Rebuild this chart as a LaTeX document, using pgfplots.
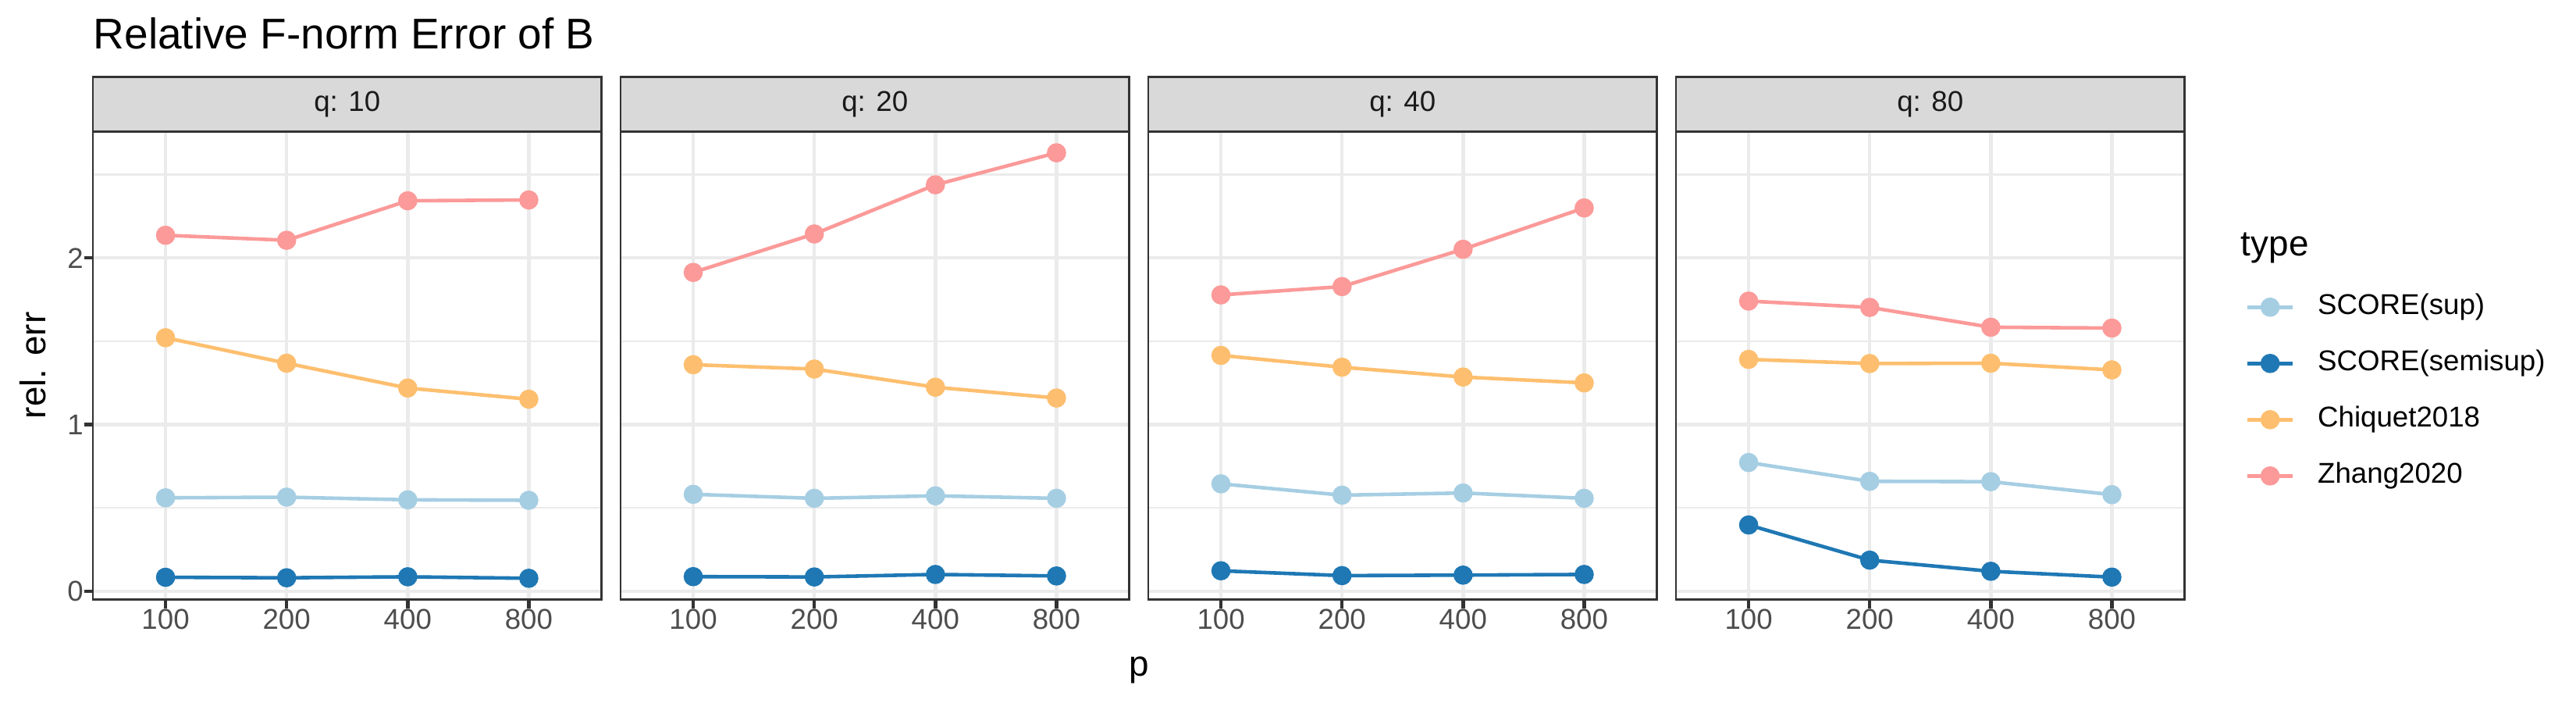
\documentclass[border=0pt]{standalone}
\usepackage{fontspec}
\setmainfont{Liberation Sans}
\usepackage{pgfplots}
\pgfplotsset{compat=1.18}
\definecolor{grey10}{HTML}{1A1A1A}
\definecolor{grey20}{HTML}{333333}
\definecolor{grey30}{HTML}{4D4D4D}
\definecolor{grey85}{HTML}{D9D9D9}
\definecolor{grey92}{HTML}{EBEBEB}
\definecolor{csup}{HTML}{A6CEE3}
\definecolor{csemi}{HTML}{1F78B4}
\definecolor{cchiq}{HTML}{FDBF6F}
\definecolor{czhang}{HTML}{FB9A99}
\pgfplotsset{
  panel/.style={
    at={(#1,31.78pt)}, anchor=south west,
    scale only axis, width=156.36pt, height=143.8pt,
    xmin=0.4, xmax=4.6, ymin=-0.0507, ymax=2.7587,
    xtick={1,2,3,4}, xticklabels={100,200,400,800},
    ytick={0,1,2}, minor ytick={0.5,1.5,2.5},
    grid=both,
    major grid style={grey92, line width=1.07pt},
    minor grid style={grey92, line width=0.53pt},
    tick align=outside, major tick length=2.75pt, minor tick length=0pt,
    xtick pos=bottom, ytick pos=left,
    tick style={grey20, line width=1.07pt},
    axis line style={draw=none},
    ticklabel style={font=\fontsize{8.8}{10}\selectfont, text=grey30},
    xticklabel style={anchor=north, inner sep=0pt},
    yticklabel style={anchor=east, inner sep=0pt},
    clip=false,
    every axis plot/.append style={line width=1.1pt, mark=*, mark size=2.4pt, mark options={solid}},
  },
}
\newcommand{\strip}[1]{%
  \draw[grey20, line width=0.55pt] (rel axis cs:0,0) rectangle (rel axis cs:1,1);
  \draw[grey20, line width=0.55pt, fill=grey85] (rel axis cs:0,1) rectangle ([yshift=16.8pt]rel axis cs:1,1);
  \node[font=\fontsize{8.8}{10}\selectfont, text=grey10, inner sep=0pt] at ([yshift=8.4pt]rel axis cs:0.5,1) {#1};
}
\begin{document}
\begin{tikzpicture}
\useasboundingbox (0,0) rectangle (792pt,216pt);
% Panel 1: q = 10
\begin{axis}[panel=28.56pt, yticklabels={0,1,2}]
\addplot[csup] coordinates {(1,0.560) (2,0.564) (3,0.548) (4,0.545)};
\addplot[csemi] coordinates {(1,0.083) (2,0.080) (3,0.086) (4,0.077)};
\addplot[cchiq] coordinates {(1,1.521) (2,1.368) (3,1.219) (4,1.152)};
\addplot[czhang] coordinates {(1,2.136) (2,2.106) (3,2.343) (4,2.348)};
\strip{q: 10}
\end{axis}
% Panel 2: q = 20
\begin{axis}[panel=190.80pt, yticklabels={}, ytick style={draw=none}]
\addplot[csup] coordinates {(1,0.581) (2,0.557) (3,0.572) (4,0.557)};
\addplot[csemi] coordinates {(1,0.087) (2,0.085) (3,0.100) (4,0.091)};
\addplot[cchiq] coordinates {(1,1.359) (2,1.333) (3,1.224) (4,1.159)};
\addplot[czhang] coordinates {(1,1.913) (2,2.144) (3,2.439) (4,2.631)};
\strip{q: 20}
\end{axis}
% Panel 3: q = 40
\begin{axis}[panel=353.04pt, yticklabels={}, ytick style={draw=none}]
\addplot[csup] coordinates {(1,0.644) (2,0.576) (3,0.589) (4,0.557)};
\addplot[csemi] coordinates {(1,0.122) (2,0.093) (3,0.096) (4,0.100)};
\addplot[cchiq] coordinates {(1,1.415) (2,1.344) (3,1.285) (4,1.250)};
\addplot[czhang] coordinates {(1,1.778) (2,1.828) (3,2.052) (4,2.300)};
\strip{q: 40}
\end{axis}
% Panel 4: q = 80
\begin{axis}[panel=515.28pt, yticklabels={}, ytick style={draw=none},
  legend style={at={(axis description cs:1.1206,0.6535)}, anchor=north west,
    draw=none, fill=none, inner sep=0pt, outer sep=0pt,
    row sep=8.98pt, column sep=7.2pt,
    font=\fontsize{8.8}{10}\selectfont,
    nodes={inner sep=0pt, text height=6.4pt, text depth=1.9pt},
    cells={anchor=west}},
  legend image code/.code={\draw[mark repeat=2, mark phase=2, #1] plot coordinates {(0pt,0pt) (6.9pt,0pt) (13.8pt,0pt)};}]
\addplot[csup] coordinates {(1,0.772) (2,0.659) (3,0.657) (4,0.579)};
\addlegendentry{SCORE(sup)}
\addplot[csemi] coordinates {(1,0.397) (2,0.186) (3,0.119) (4,0.084)};
\addlegendentry{SCORE(semisup)}
\addplot[cchiq] coordinates {(1,1.391) (2,1.366) (3,1.368) (4,1.328)};
\addlegendentry{Chiquet2018}
\addplot[czhang] coordinates {(1,1.741) (2,1.703) (3,1.584) (4,1.579)};
\addlegendentry{Zhang2020}
\strip{q: 80}
\end{axis}
% Titles and labels
\node[anchor=base west, inner sep=0pt, font=\fontsize{13.2}{15}\selectfont] at (28.56pt,200.95pt) {Relative F-norm Error of B};
\node[anchor=base, inner sep=0pt, font=\fontsize{11}{13}\selectfont] at (350.1pt,8.16pt) {p};
\node[anchor=base, rotate=90, inner sep=0pt, font=\fontsize{11}{13}\selectfont] at (14.1pt,103.7pt) {rel. err};
\node[anchor=base west, inner sep=0pt, font=\fontsize{11}{13}\selectfont] at (688.8pt,137.3pt) {type};
\end{tikzpicture}
\end{document}
